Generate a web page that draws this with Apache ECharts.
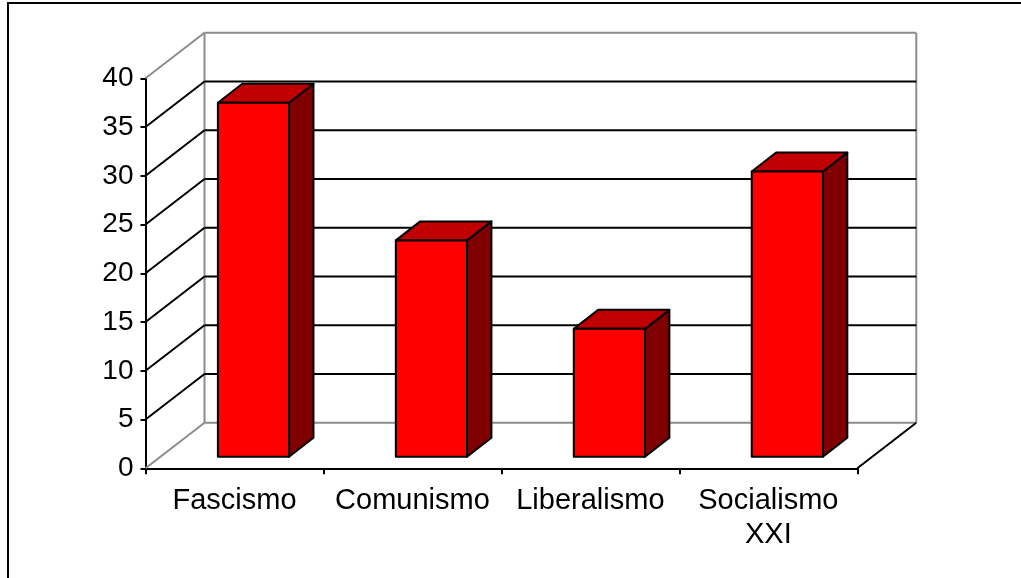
<!DOCTYPE html>
<html>
<head>
<meta charset="utf-8">
<script src="https://cdn.jsdelivr.net/npm/echarts@6/dist/echarts.min.js"></script>
<style>
html,body{margin:0;padding:0;background:#fff;}
#chart{width:1021px;height:578px;}
</style>
</head>
<body>
<div id="chart"></div>
<script>
const categories = ['Fascismo', 'Comunismo', 'Liberalismo', 'Socialismo\nXXI'];
const values = [36, 22, 13, 29];
const yTicks = [0, 5, 10, 15, 20, 25, 30, 35, 40];

const FONT = "'Liberation Sans', Arial, sans-serif";
const WALL_DX = 59, WALL_DY = 45.5;   // depth of the 3D box
const BAR_F = [19, 11.6];             // bar front face offset
const BAR_B = [43.4, 30.6];           // bar back face offset
const BAR_W = 0.4;                    // fraction of category width
const PERSP = 1.0085;                 // slight perspective enlargement of bars

const chart = echarts.init(document.getElementById('chart'), null, {renderer: 'canvas'});

function wallItem(params, api) {
  const cs = params.coordSys;
  const v = api.value(1);
  const y = api.coord([0, v])[1];
  const x0 = cs.x, x1 = cs.x + cs.width;
  const edge = (v === yTicks[0] || v === yTicks[yTicks.length - 1]);
  const col = edge ? '#8c8c8c' : '#000';
  const children = [
    {type: 'line', shape: {x1: x0, y1: y, x2: x0 + WALL_DX, y2: y - WALL_DY}, style: {stroke: col, lineWidth: 2}},
    {type: 'line', shape: {x1: x0 + WALL_DX, y1: y - WALL_DY, x2: x1 + WALL_DX, y2: y - WALL_DY}, style: {stroke: col, lineWidth: 2}}
  ];
  if (params.dataIndex === 0) {
    const yTop = api.coord([0, yTicks[yTicks.length - 1]])[1];
    children.push(
      {type: 'line', shape: {x1: x0 + WALL_DX, y1: yTop - WALL_DY, x2: x0 + WALL_DX, y2: y - WALL_DY}, style: {stroke: '#8c8c8c', lineWidth: 2}},
      {type: 'line', shape: {x1: x1 + WALL_DX, y1: yTop - WALL_DY, x2: x1 + WALL_DX, y2: y - WALL_DY}, style: {stroke: '#8c8c8c', lineWidth: 2}},
      {type: 'line', shape: {x1: x1, y1: y, x2: x1 + WALL_DX, y2: y - WALL_DY}, style: {stroke: '#000', lineWidth: 2}}
    );
  }
  return {type: 'group', children};
}

function barItem(params, api) {
  const i = api.value(0), v = api.value(1);
  const base = api.coord([i, 0]);
  const top = api.coord([i, v]);
  const w = api.size([1, 0])[0] * BAR_W;
  const h = (base[1] - top[1]) * PERSP;
  const xl = base[0] - w / 2 + BAR_F[0], xr = base[0] + w / 2 + BAR_F[0];
  const yb = base[1] - BAR_F[1], yt = yb - h;
  const dx = BAR_B[0] - BAR_F[0], dy = BAR_B[1] - BAR_F[1];
  const st = {stroke: '#000', lineWidth: 2, lineJoin: 'round'};
  return {
    type: 'group',
    children: [
      {type: 'polygon', shape: {points: [[xr, yb], [xr, yt], [xr + dx, yt - dy], [xr + dx, yb - dy]]}, style: Object.assign({fill: '#800000'}, st)},
      {type: 'polygon', shape: {points: [[xl, yt], [xr, yt], [xr + dx, yt - dy], [xl + dx, yt - dy]]}, style: Object.assign({fill: '#C00000'}, st)},
      {type: 'rect', shape: {x: xl, y: yt, width: xr - xl, height: yb - yt}, style: Object.assign({fill: '#FF0000'}, st)}
    ]
  };
}

chart.setOption({
  animation: false,
  backgroundColor: '#fff',
  textStyle: {fontFamily: FONT},
  graphic: [{
    type: 'rect', shape: {x: 8, y: 3, width: 1100, height: 700},
    style: {fill: 'none', stroke: '#000', lineWidth: 2}, z: 100
  }],
  grid: {left: 145.5, right: 163.7, top: 78.3, bottom: 109.7, containLabel: false},
  xAxis: {
    type: 'category',
    data: categories,
    boundaryGap: true,
    axisLine: {lineStyle: {color: '#000', width: 2}},
    axisTick: {show: true, length: 6, lineStyle: {color: '#000', width: 2}},
    axisLabel: {interval: 0, fontSize: 29, color: '#000', margin: 16, lineHeight: 34, fontFamily: FONT},
    splitLine: {show: false}
  },
  yAxis: {
    type: 'value',
    min: 0, max: 40, interval: 5,
    axisLine: {show: true, lineStyle: {color: '#000', width: 2}},
    axisTick: {show: true, length: 5, lineStyle: {color: '#000', width: 2}},
    axisLabel: {fontSize: 28, color: '#000', margin: 12, fontFamily: FONT},
    splitLine: {show: false}
  },
  series: [
    {
      type: 'custom', name: 'walls', z: 1, clip: false, silent: true,
      renderItem: wallItem,
      data: yTicks.map(v => [0, v]),
      encode: {x: 0, y: 1}
    },
    {
      type: 'custom', name: 'bars', z: 5, clip: false,
      renderItem: barItem,
      data: values.map((v, i) => [i, v]),
      encode: {x: 0, y: 1}
    }
  ]
});
</script>
</body>
</html>
